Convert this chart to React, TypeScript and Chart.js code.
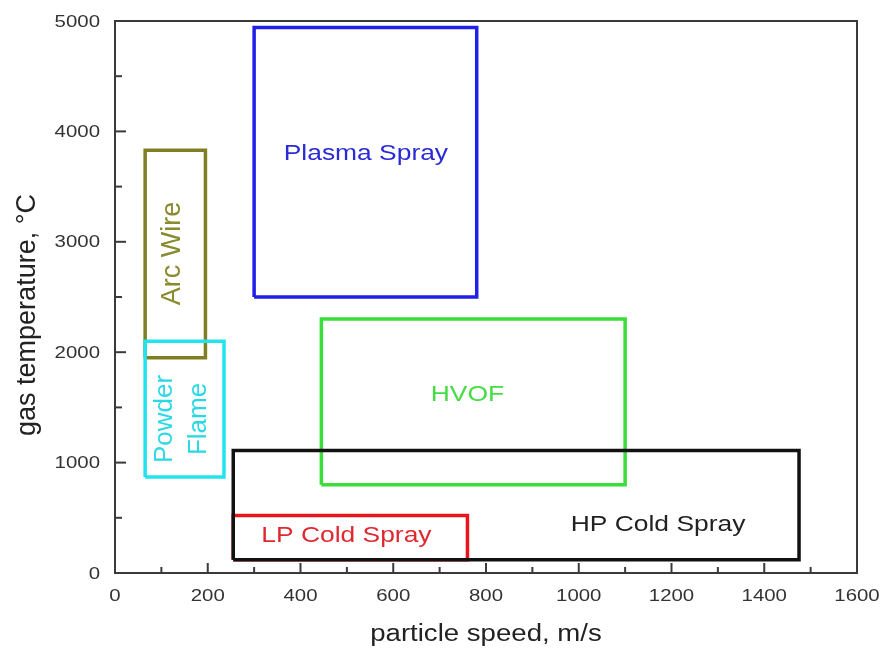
import React, { useEffect, useRef } from "react";
import { Chart, registerables } from "chart.js";

Chart.register(...registerables);

// Process windows: particle speed (m/s) and gas temperature (°C) ranges
const processNames = ["HP Cold Spray", "LP Cold Spray", "Powder Flame", "Arc Wire", "HVOF", "Plasma Spray"];
const speedMin = [255, 255, 65, 65, 445, 300];
const speedMax = [1475, 760, 235, 195, 1100, 780];
const tempMin = [120, 120, 870, 1950, 800, 2500];
const tempMax = [1110, 520, 2100, 3830, 2300, 4940];
const boxColors = ["#111111", "#e8141e", "#22e4ee", "#7f7f22", "#3ade3a", "#2020e6"];
const textColors = ["#222222", "#e02830", "#2ad8e6", "#8a8a2e", "#44dd44", "#2a2ad6"];

// label anchors (data coords) and text lines
const labelLines = [["HP Cold Spray"], ["LP Cold Spray"], ["Powder", "Flame"], ["Arc Wire"], ["HVOF"], ["Plasma Spray"]];
const labelSpeed = [1171, 499, 145, 125, 760, 541];
const labelTemp = [435, 335, 1395, 2894, 1610, 3800];
const labelRotated = [false, false, true, true, false, false];

const xMin = 0;
const xMax = 1600;
const xStep = 200;
const yMin = 0;
const yMax = 5000;
const yStep = 1000;
const xTitle = "particle speed, m/s";
const yTitle = "gas temperature, °C";

const FONT = "'Liberation Sans', Arial, sans-serif";
const SX = 1.2;

function drawText(ctx: CanvasRenderingContext2D, text: string, x: number, y: number, size: number, color: string, rotated: boolean, sx: number, baseline: CanvasTextBaseline = "middle", align: CanvasTextAlign = "center") {
  ctx.save();
  ctx.translate(x, y);
  ctx.scale(sx, 1);
  if (rotated) ctx.rotate(-Math.PI / 2);
  ctx.font = `${size}px ${FONT}`;
  ctx.fillStyle = color;
  ctx.textAlign = align;
  ctx.textBaseline = baseline;
  ctx.fillText(text, 0, 0);
  ctx.restore();
}

const framePlugin = {
  id: "frameAndText",
  afterDraw(chart: any) {
    const { ctx, chartArea: a, scales } = chart;
    const xs = scales.x;
    const ys = scales.y;
    ctx.save();
    // frame
    ctx.strokeStyle = "#3a3a3a";
    ctx.lineWidth = 2;
    ctx.strokeRect(a.left, a.top, a.right - a.left, a.bottom - a.top);
    // x ticks (inward)
    ctx.lineWidth = 2;
    for (let v = xMin; v <= xMax; v += xStep / 2) {
      const px = xs.getPixelForValue(v);
      const major = v % xStep === 0;
      ctx.beginPath();
      ctx.moveTo(px, a.bottom);
      ctx.lineTo(px, a.bottom - (major ? 10 : 6));
      ctx.stroke();
    }
    for (let v = yMin; v <= yMax; v += yStep / 2) {
      const py = ys.getPixelForValue(v);
      const major = v % yStep === 0;
      ctx.beginPath();
      ctx.moveTo(a.left, py);
      ctx.lineTo(a.left + (major ? 11 : 7), py);
      ctx.stroke();
    }
    ctx.restore();
    // tick labels
    xs.ticks.forEach((t: any) => {
      drawText(ctx, String(t.value), xs.getPixelForValue(t.value), a.bottom + 23, 17, "#333333", false, SX);
    });
    ys.ticks.forEach((t: any) => {
      drawText(ctx, String(t.value), a.left - 15, ys.getPixelForValue(t.value) + 1, 17, "#333333", false, SX, "middle", "right");
    });
    // axis titles
    drawText(ctx, xTitle, (a.left + a.right) / 2, 641, 23, "#222222", false, SX, "alphabetic");
    drawText(ctx, yTitle, 28, 315, 27, "#222222", true, 1);
    // box labels
    labelLines.forEach((lines, i) => {
      const cx = xs.getPixelForValue(labelSpeed[i]);
      const cy = ys.getPixelForValue(labelTemp[i]);
      if (labelRotated[i]) {
        const gap = 34;
        lines.forEach((ln, j) => {
          const off = (j - (lines.length - 1) / 2) * gap;
          drawText(ctx, ln, cx + off, cy, lines.length > 1 ? 26 : 27, textColors[i], true, 1);
        });
      } else {
        lines.forEach((ln) => {
          drawText(ctx, ln, cx, cy, 22, textColors[i], false, SX);
        });
      }
    });
  },
};

export default function App() {
  const ref = useRef<HTMLCanvasElement | null>(null);
  useEffect(() => {
    if (!ref.current) return;
    const datasets = processNames.map((name, i) => ({
      label: name,
      data: [
        { x: speedMin[i], y: tempMin[i] },
        { x: speedMax[i], y: tempMin[i] },
        { x: speedMax[i], y: tempMax[i] },
        { x: speedMin[i], y: tempMax[i] },
        { x: speedMin[i], y: tempMin[i] },
      ],
      showLine: true,
      borderColor: boxColors[i],
      backgroundColor: boxColors[i],
      borderWidth: 3.5,
      pointRadius: 0,
      fill: false,
      tension: 0,
      borderJoinStyle: "miter" as const,
    }));
    const chart = new Chart(ref.current, {
      type: "scatter",
      data: { datasets },
      options: {
        animation: false,
        responsive: false,
        maintainAspectRatio: false,
        layout: { padding: { top: 21, right: 28, left: 0, bottom: 0 } },
        plugins: { legend: { display: false }, tooltip: { enabled: false } },
        scales: {
          x: {
            type: "linear",
            min: xMin,
            max: xMax,
            ticks: { stepSize: xStep, display: false },
            grid: { display: false },
            border: { display: false },
            afterFit: (s: any) => { s.height = 81; },
          },
          y: {
            type: "linear",
            min: yMin,
            max: yMax,
            ticks: { stepSize: yStep, display: false },
            grid: { display: false },
            border: { display: false },
            afterFit: (s: any) => { s.width = 115; },
          },
        },
      },
      plugins: [framePlugin],
    });
    return () => chart.destroy();
  }, []);
  return (
    <div style={{ position: "fixed", left: 0, top: 0, width: 885, height: 654, background: "#fff" }}>
      <canvas ref={ref} width={885} height={654} style={{ width: 885, height: 654, display: "block" }} />
    </div>
  );
}
